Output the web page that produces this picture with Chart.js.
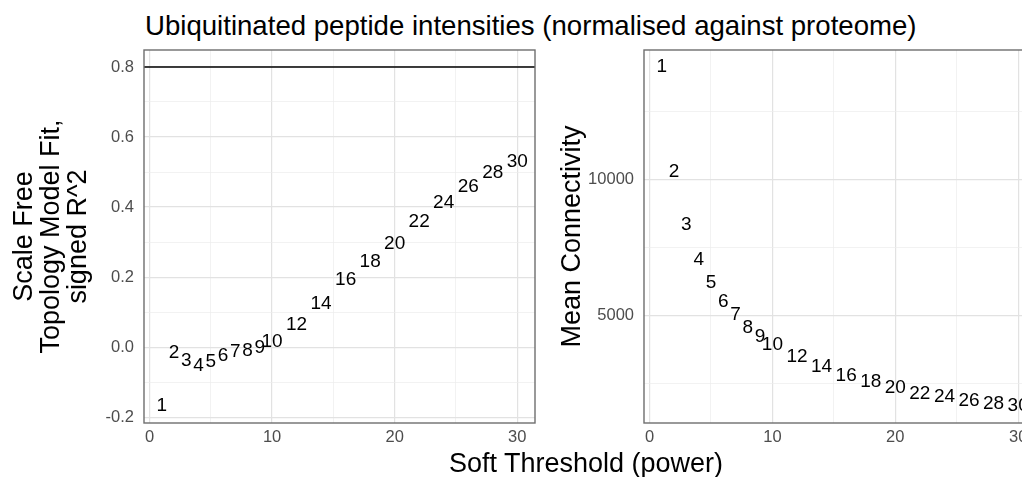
<!DOCTYPE html>
<html>
<head>
<meta charset="utf-8">
<script src="https://cdn.jsdelivr.net/npm/chart.js@4.4.1/dist/chart.umd.min.js"></script>
<style>
  html, body { margin: 0; padding: 0; background: #fff; }
  body {
    width: 1022px; height: 477px; overflow: hidden; position: relative;
    font-family: "Liberation Sans", Arial, sans-serif;
  }
  canvas { position: absolute; top: 0; }
  #fitChart { left: 0; }
  #connChart { left: 540px; }
  .txt { position: absolute; white-space: nowrap; color: #000; font-size: 27px; line-height: 27px; }
  #title { left: 145px; top: 12px; font-size: 27.6px; }
  #xTitle { left: 586px; top: 450px; transform: translateX(-50%); }
</style>
</head>
<body>
<div id="title" class="txt">Ubiquitinated peptide intensities (normalised against proteome)</div>
<canvas id="fitChart" width="540" height="477"></canvas>
<canvas id="connChart" width="510" height="477"></canvas>
<div id="xTitle" class="txt">Soft Threshold (power)</div>
<script>
const FONT = '"Liberation Sans", Arial, sans-serif';

// soft threshold powers and the two fit results
const powers = [1, 2, 3, 4, 5, 6, 7, 8, 9, 10, 12, 14, 16, 18, 20, 22, 24, 26, 28, 30];
const scaleFreeFit = [-0.168, -0.016, -0.040, -0.052, -0.041, -0.025, -0.014, -0.011, -0.001, 0.015,
  0.065, 0.125, 0.193, 0.244, 0.296, 0.359, 0.412, 0.457, 0.497, 0.529];
const meanConnectivity = [14143, 10305, 8346, 7070, 6213, 5526, 5037, 4548, 4217, 3934,
  3482, 3114, 2805, 2562, 2342, 2132, 2011, 1886, 1765, 1680];
const fitCutoff = 0.8;

// tick positions (major ones get labels)
const xMajorTicks = [0, 10, 20, 30];
const xMinorTicks = [5, 15, 25];
const fitMajorTicks = [-0.2, 0, 0.2, 0.4, 0.6, 0.8];
const fitMinorTicks = [-0.1, 0.1, 0.3, 0.5, 0.7];
const connMajorTicks = [5000, 10000];
const connMinorTicks = [2500, 7500, 12500];

// ggplot style 5% range expansion
const expand = (vals) => {
  const lo = Math.min(...vals), hi = Math.max(...vals);
  const pad = (hi - lo) * 0.05;
  return [lo - pad, hi + pad];
};

const gridFor = (majors) => ({
  color: (c) => (c.tick && majors.includes(c.tick.value)) ? '#e2e2e2' : '#ededed',
  lineWidth: (c) => (c.tick && majors.includes(c.tick.value)) ? 1.2 : 0.7,
  drawTicks: false,
});

const tickFont = { family: FONT, size: 16.5 };

// draws the power number at each point, the cutoff line and the panel box
const pointLabels = {
  id: 'pointLabels',
  afterDatasetsDraw(chart, args, opts) {
    const { ctx, chartArea, scales: { x, y } } = chart;
    ctx.save();
    if (opts.cutoff !== undefined) {
      const yy = y.getPixelForValue(opts.cutoff);
      ctx.strokeStyle = '#000';
      ctx.lineWidth = 1.6;
      ctx.beginPath();
      ctx.moveTo(chartArea.left, yy);
      ctx.lineTo(chartArea.right, yy);
      ctx.stroke();
    }
    ctx.font = `19px ${FONT}`;
    ctx.textAlign = 'center';
    ctx.textBaseline = 'middle';
    ctx.fillStyle = '#000';
    chart.data.datasets[0].data.forEach((p) => {
      ctx.fillText(String(p.x), x.getPixelForValue(p.x), y.getPixelForValue(p.y));
    });
    ctx.strokeStyle = '#6e6e6e';
    ctx.lineWidth = 1.4;
    ctx.strokeRect(chartArea.left, chartArea.top, chartArea.width, chartArea.height);
    ctx.restore();
  },
};

function makeChart(id, values, cfg) {
  const xRange = expand(powers);
  const yRange = expand(cfg.cutoff !== undefined ? [...values, cfg.cutoff] : values);
  const yTicks = [...cfg.majors, ...cfg.minors].sort((a, b) => a - b);
  const xTicks = [...xMajorTicks, ...xMinorTicks].sort((a, b) => a - b);

  return new Chart(document.getElementById(id).getContext('2d'), {
    type: 'scatter',
    data: {
      datasets: [{
        data: powers.map((p, i) => ({ x: p, y: values[i] })),
        pointRadius: 0,
        pointHoverRadius: 0,
      }],
    },
    options: {
      responsive: false,
      animation: false,
      layout: { padding: { left: 0, right: cfg.padRight, top: 50, bottom: 24 } },
      plugins: {
        legend: { display: false },
        tooltip: { enabled: false },
        pointLabels: { cutoff: cfg.cutoff },
      },
      scales: {
        x: {
          type: 'linear',
          min: xRange[0],
          max: xRange[1],
          afterBuildTicks: (s) => { s.ticks = xTicks.map((v) => ({ value: v })); },
          afterFit: (s) => { s.height = 30; },
          grid: gridFor(xMajorTicks),
          border: { display: false },
          ticks: {
            autoSkip: false, maxRotation: 0, padding: 5, color: '#4d4d4d', font: tickFont,
            callback: (v) => xMajorTicks.includes(v) ? String(v) : '',
          },
        },
        y: {
          type: 'linear',
          min: yRange[0],
          max: yRange[1],
          afterBuildTicks: (s) => { s.ticks = yTicks.map((v) => ({ value: v })); },
          afterFit: (s) => { s.width = cfg.axisWidth; },
          grid: gridFor(cfg.majors),
          border: { display: false },
          ticks: {
            autoSkip: false, padding: 10, color: '#4d4d4d', font: tickFont,
            callback: (v) => cfg.majors.includes(v) ? cfg.format(v) : '',
          },
          title: {
            display: true,
            text: cfg.title,
            color: '#000',
            font: { family: FONT, size: 27, lineHeight: 1.0 },
            padding: { top: cfg.titlePad, bottom: 0 },
          },
        },
      },
    },
    plugins: [pointLabels],
  });
}

makeChart('fitChart', scaleFreeFit, {
  cutoff: fitCutoff,
  majors: fitMajorTicks,
  minors: fitMinorTicks,
  format: (v) => v.toFixed(1),
  axisWidth: 144,
  padRight: 5,
  titlePad: 11.5,
  title: ['Scale Free', 'Topology Model Fit,', 'signed R^2'],
});

makeChart('connChart', meanConnectivity, {
  majors: connMajorTicks,
  minors: connMinorTicks,
  format: (v) => String(v),
  axisWidth: 104,
  padRight: 14,
  titlePad: 19.5,
  title: 'Mean Connectivity',
});
</script>
</body>
</html>
